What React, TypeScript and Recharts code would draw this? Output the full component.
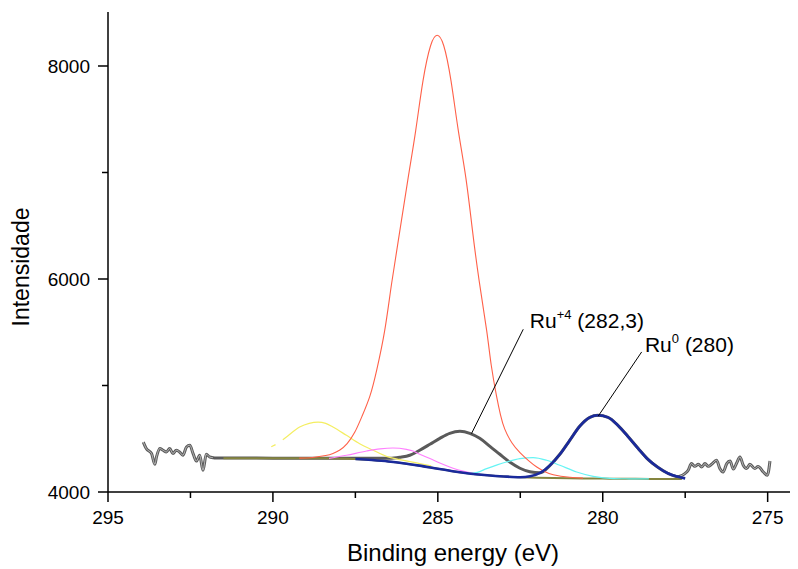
import { Label, Line, LineChart, ReferenceDot, ReferenceLine, XAxis, YAxis } from "recharts";

type Pt = [number, number | null];

// axis ticks
const xTicks = [295, 292.5, 290, 287.5, 285, 282.5, 280, 277.5, 275];
const xLabels = [295, 290, 285, 280, 275];
const yTicks = [4000, 5000, 6000, 7000, 8000];
const yLabels = [4000, 6000, 8000];

// measured spectrum (binding energy eV, intensity)
const noiseLeft: Pt[] = [
  [293.93, 4469], [293.84, 4408], [293.68, 4361], [293.58, 4260], [293.53, 4329],
  [293.43, 4408], [293.33, 4392], [293.23, 4376], [293.13, 4408], [293.03, 4361],
  [292.93, 4392], [292.83, 4376], [292.73, 4345], [292.62, 4423], [292.52, 4439],
  [292.42, 4361], [292.32, 4290], [292.22, 4345], [292.12, 4204], [292.02, 4355],
  [291.92, 4329], [291.82, 4322],
];

const spectrumMid: Pt[] = [
  [291.75, 4319], [291.0, 4319], [290.0, 4318], [289.0, 4318], [288.0, 4316],
  [287.0, 4316], [286.46, 4316], [286.15, 4326], [285.85, 4345], [285.55, 4392],
  [285.24, 4448], [284.94, 4504], [284.64, 4551], [284.33, 4570], [284.03, 4551],
  [283.73, 4504], [283.42, 4429], [283.12, 4354], [282.81, 4279], [282.51, 4223],
  [282.21, 4190], [281.9, 4180], [281.6, 4250], [281.3, 4354], [281.0, 4485],
  [280.7, 4617], [280.39, 4701], [280.15, 4720], [279.84, 4701], [279.54, 4626],
  [279.24, 4523], [278.93, 4410], [278.63, 4307], [278.33, 4232], [278.03, 4176],
  [277.72, 4145],
];

const noiseRight: Pt[] = [
  [277.66, 4148], [277.51, 4173], [277.41, 4204], [277.31, 4267], [277.21, 4241],
  [277.1, 4260], [277.0, 4235], [276.9, 4267], [276.8, 4241], [276.7, 4260],
  [276.55, 4298], [276.45, 4220], [276.35, 4188], [276.24, 4267], [276.14, 4290],
  [276.04, 4215], [275.94, 4272], [275.84, 4329], [275.74, 4251], [275.64, 4220],
  [275.54, 4260], [275.39, 4220], [275.29, 4240], [275.13, 4188], [275.01, 4157],
  [274.93, 4291],
];

// Shirley background
const background: Pt[] = [
  [291.5, 4318], [290.5, 4318], [289.5, 4318], [288.5, 4317], [288.0, 4315],
  [287.5, 4310], [287.0, 4300], [286.5, 4287], [286.0, 4268], [285.5, 4245],
  [285.0, 4218], [284.5, 4193], [284.0, 4172], [283.5, 4157], [283.0, 4146],
  [282.5, 4139], [282.0, 4134], [281.5, 4131], [281.0, 4129], [280.0, 4126],
  [279.0, 4124], [278.0, 4122], [277.6, 4121],
];

// fitted components
const compC: Pt[] = [
  [289.2, 4318], [288.8, 4324], [288.4, 4342], [288.18, 4362], [287.97, 4395],
  [287.75, 4455], [287.52, 4560], [287.3, 4710], [287.06, 4900], [286.85, 5150],
  [286.61, 5518], [286.4, 5960], [286.15, 6457], [285.9, 6950], [285.67, 7396],
  [285.45, 7860], [285.22, 8190], [285.02, 8288], [284.82, 8190], [284.6, 7860],
  [284.38, 7396], [284.15, 6950], [283.95, 6457], [283.75, 5990], [283.52, 5518],
  [283.38, 5190], [283.22, 4900], [283.1, 4725], [282.97, 4590], [282.75, 4460],
  [282.51, 4370], [282.25, 4295], [282.0, 4235], [281.75, 4190], [281.5, 4162],
  [281.0, 4138], [280.6, 4130],
];

const compYellow: Pt[] = [
  [290.05, 4425], [289.92, 4445], [289.78, null], [289.7, 4490], [289.59, 4516],
  [289.19, 4610], [288.9, 4645], [288.63, 4657], [288.4, 4645], [288.18, 4610],
  [287.77, 4532], [287.37, 4454], [286.96, 4392], [286.56, 4335], [286.15, 4304],
  [285.55, 4267], [285.2, 4245],
];

const compPink: Pt[] = [
  [288.3, 4316], [287.77, 4345], [287.16, 4385], [286.75, 4405], [286.36, 4413],
  [285.95, 4400], [285.75, 4385], [285.55, 4355], [285.24, 4314], [284.94, 4272],
  [284.64, 4235], [284.3, 4200], [284.0, 4180], [283.7, 4165],
];

const compCyan: Pt[] = [
  [284.1, 4172], [283.8, 4185], [283.52, 4220], [283.2, 4255], [282.92, 4282],
  [282.51, 4314], [282.11, 4323], [281.7, 4298], [281.3, 4251], [280.79, 4188],
  [280.29, 4147], [279.68, 4126], [279.2, 4124], [278.6, 4123],
];

const compRu0: Pt[] = [
  [287.5, 4310], [287.0, 4300], [286.5, 4287], [286.0, 4268], [285.5, 4245],
  [285.0, 4218], [284.5, 4193], [284.0, 4172], [283.5, 4157], [283.0, 4146],
  [282.5, 4139], [282.2, 4148], [281.9, 4180], [281.6, 4250], [281.3, 4354],
  [281.0, 4485], [280.7, 4617], [280.39, 4701], [280.15, 4720], [279.84, 4701],
  [279.54, 4626], [279.24, 4523], [278.93, 4410], [278.63, 4307], [278.33, 4232],
  [278.03, 4176], [277.72, 4143], [277.5, 4128],
];

// annotations: label anchor and pointer segments
const ru4Label = { e: 282.21, i: 5537 };
const ru4Line = [{ x: 282.41, y: 5528 }, { x: 283.98, y: 4548 }];
const ru0Label = { e: 278.72, i: 5312 };
const ru0Line = [{ x: 278.82, y: 5315 }, { x: 280.14, y: 4711 }];

const toRows = (a: Pt[]) => a.map(([e, i]) => ({ e, i }));
const spectrum = toRows([...noiseLeft, ...spectrumMid, ...noiseRight]);

const FONT = "'Liberation Sans', Arial, sans-serif";

const XTick = ({ x, y, payload }: any) => {
  const major = xLabels.includes(payload.value);
  return (
    <g>
      <line x1={x} y1={y} x2={x} y2={y + (major ? 10 : 6)} stroke="#000" strokeWidth={1.5} />
      {major && (
        <text x={x} y={y + 32} textAnchor="middle" fontSize={19} fontFamily={FONT} fill="#000">
          {payload.value}
        </text>
      )}
    </g>
  );
};

const YTick = ({ x, y, payload }: any) => {
  const major = yLabels.includes(payload.value);
  return (
    <g>
      <line x1={x - (major ? 10 : 6)} y1={y} x2={x} y2={y} stroke="#000" strokeWidth={1.5} />
      {major && (
        <text x={x - 18} y={y + 7} textAnchor="end" fontSize={19} fontFamily={FONT} fill="#000">
          {payload.value}
        </text>
      )}
    </g>
  );
};

const annot = (main: string, sup: string, rest: string) => (p: any) => (
  <text x={p.cx} y={p.cy} fontSize={21} fontFamily={FONT} fill="#000">
    <tspan>{main}</tspan>
    <tspan fontSize={13} dy={-9}>{sup}</tspan>
    <tspan dy={9}>{rest}</tspan>
  </text>
);

const thin = { dot: false, activeDot: false, isAnimationActive: false, type: "monotone" as const };

export default function App() {
  return (
    <LineChart width={790} height={561} margin={{ top: 4, right: 0, bottom: 0, left: 0 }}>
      <XAxis
        type="number"
        dataKey="e"
        domain={[274.08, 295]}
        reversed
        allowDataOverflow
        ticks={xTicks}
        interval={0}
        tickSize={0}
        tickMargin={0}
        tickLine={false}
        tick={XTick}
        height={77}
        axisLine={{ stroke: "#000", strokeWidth: 1.5 }}
      >
        <Label
          value="Binding energy (eV)"
          position="insideBottom"
          offset={8}
          style={{ fontSize: 24, fontFamily: FONT, fill: "#000" }}
        />
      </XAxis>
      <YAxis
        type="number"
        domain={[4000, 8507]}
        allowDataOverflow
        ticks={yTicks}
        interval={0}
        tickSize={0}
        tickMargin={0}
        tickLine={false}
        tick={YTick}
        width={100}
        axisLine={{ stroke: "#000", strokeWidth: 1.5 }}
      >
        <Label
          content={() => (
            <text
              x={21}
              y={259}
              transform="rotate(-90, 21, 259)"
              textAnchor="middle"
              fontSize={23}
              fontFamily={FONT}
              fill="#000"
            >
              Intensidade
            </text>
          )}
        />
      </YAxis>

      <Line {...thin} data={spectrum} dataKey="i" stroke="#5a5a5a" strokeWidth={3} />
      <Line {...thin} data={toRows(noiseLeft)} dataKey="i" stroke="#d0d0d0" strokeWidth={0.8} />
      <Line {...thin} data={toRows(noiseRight)} dataKey="i" stroke="#d0d0d0" strokeWidth={0.8} />
      <Line {...thin} data={toRows(background)} dataKey="i" stroke="#85853f" strokeWidth={2} />
      <Line {...thin} data={toRows(compYellow)} dataKey="i" stroke="#f4ee62" strokeWidth={1.2} />
      <Line {...thin} data={toRows(compPink)} dataKey="i" stroke="#ff80ff" strokeWidth={1.2} />
      <Line {...thin} data={toRows(compCyan)} dataKey="i" stroke="#66f4f4" strokeWidth={1.2} />
      <Line {...thin} type="natural" data={toRows(compC)} dataKey="i" stroke="#ff6048" strokeWidth={1.1} />
      <Line {...thin} data={toRows(compRu0)} dataKey="i" stroke="#1a2a9c" strokeWidth={2.6} />

      <ReferenceLine segment={ru4Line} stroke="#000" strokeWidth={1} ifOverflow="visible" />
      <ReferenceLine segment={ru0Line} stroke="#000" strokeWidth={1} ifOverflow="visible" />
      <ReferenceDot x={ru4Label.e} y={ru4Label.i} r={0} shape={annot("Ru", "+4", " (282,3)")} />
      <ReferenceDot x={ru0Label.e} y={ru0Label.i} r={0} shape={annot("Ru", "0", " (280)")} />
    </LineChart>
  );
}
